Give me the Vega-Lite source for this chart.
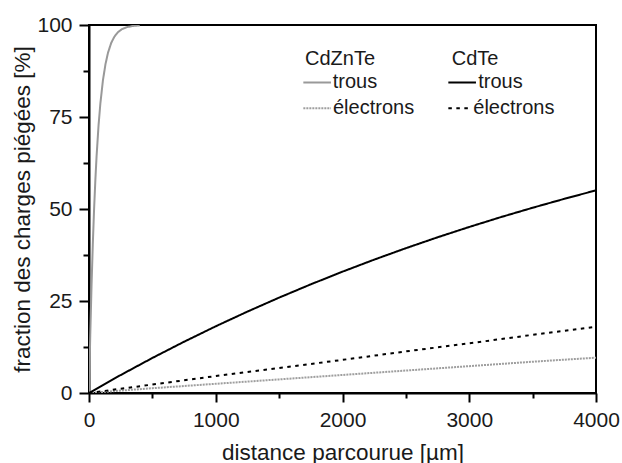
{
  "$schema": "https://vega.github.io/schema/vega-lite/v6.json",
  "width": 507,
  "height": 368,
  "autosize": {"type": "none"},
  "padding": {"left": 89, "top": 25, "right": 26, "bottom": 70},
  "background": "white",
  "config": {
    "view": {"stroke": "#000000", "strokeWidth": 2},
    "font": "Liberation Sans",
    "axis": {
      "domainColor": "#000000",
      "domainWidth": 2,
      "tickColor": "#000000",
      "tickWidth": 2,
      "grid": false,
      "labelFont": "Liberation Sans",
      "labelFontSize": 21,
      "labelColor": "#1a1a1a",
      "titleFont": "Liberation Sans",
      "titleFontSize": 22.5,
      "titleFontWeight": "normal",
      "titleColor": "#1a1a1a",
      "labelFlush": false,
      "labelOverlap": false,
      "labelBound": false,
      "zindex": 1
    }
  },
  "datasets": {
    "curves": [
      {"series": "CdZnTe trous", "x": 0, "y": 0},
      {"series": "CdZnTe trous", "x": 10, "y": 15.84},
      {"series": "CdZnTe trous", "x": 20, "y": 29.16},
      {"series": "CdZnTe trous", "x": 30, "y": 40.38},
      {"series": "CdZnTe trous", "x": 40, "y": 49.83},
      {"series": "CdZnTe trous", "x": 50, "y": 57.77},
      {"series": "CdZnTe trous", "x": 60, "y": 64.46},
      {"series": "CdZnTe trous", "x": 75, "y": 72.56},
      {"series": "CdZnTe trous", "x": 90, "y": 78.81},
      {"series": "CdZnTe trous", "x": 110, "y": 84.99},
      {"series": "CdZnTe trous", "x": 130, "y": 89.37},
      {"series": "CdZnTe trous", "x": 150, "y": 92.47},
      {"series": "CdZnTe trous", "x": 175, "y": 95.11},
      {"series": "CdZnTe trous", "x": 200, "y": 96.82},
      {"series": "CdZnTe trous", "x": 230, "y": 98.1},
      {"series": "CdZnTe trous", "x": 260, "y": 98.87},
      {"series": "CdZnTe trous", "x": 300, "y": 99.43},
      {"series": "CdZnTe trous", "x": 350, "y": 99.76},
      {"series": "CdZnTe trous", "x": 400, "y": 99.9},
      {"series": "CdZnTe électrons", "x": 0, "y": 0},
      {"series": "CdZnTe électrons", "x": 500, "y": 1.3},
      {"series": "CdZnTe électrons", "x": 1000, "y": 2.5},
      {"series": "CdZnTe électrons", "x": 1500, "y": 3.7},
      {"series": "CdZnTe électrons", "x": 2000, "y": 4.9},
      {"series": "CdZnTe électrons", "x": 2500, "y": 6.1},
      {"series": "CdZnTe électrons", "x": 3000, "y": 7.3},
      {"series": "CdZnTe électrons", "x": 3500, "y": 8.5},
      {"series": "CdZnTe électrons", "x": 4000, "y": 9.6},
      {"series": "CdTe trous", "x": 0, "y": 0},
      {"series": "CdTe trous", "x": 250, "y": 4.88},
      {"series": "CdTe trous", "x": 500, "y": 9.52},
      {"series": "CdTe trous", "x": 750, "y": 13.93},
      {"series": "CdTe trous", "x": 1000, "y": 18.13},
      {"series": "CdTe trous", "x": 1250, "y": 22.12},
      {"series": "CdTe trous", "x": 1500, "y": 25.92},
      {"series": "CdTe trous", "x": 1750, "y": 29.53},
      {"series": "CdTe trous", "x": 2000, "y": 32.97},
      {"series": "CdTe trous", "x": 2250, "y": 36.24},
      {"series": "CdTe trous", "x": 2500, "y": 39.35},
      {"series": "CdTe trous", "x": 2750, "y": 42.31},
      {"series": "CdTe trous", "x": 3000, "y": 45.12},
      {"series": "CdTe trous", "x": 3250, "y": 47.8},
      {"series": "CdTe trous", "x": 3500, "y": 50.34},
      {"series": "CdTe trous", "x": 3750, "y": 52.76},
      {"series": "CdTe trous", "x": 4000, "y": 55.07},
      {"series": "CdTe électrons", "x": 0, "y": 0},
      {"series": "CdTe électrons", "x": 500, "y": 2.3},
      {"series": "CdTe électrons", "x": 1000, "y": 4.6},
      {"series": "CdTe électrons", "x": 1500, "y": 6.8},
      {"series": "CdTe électrons", "x": 2000, "y": 9.0},
      {"series": "CdTe électrons", "x": 2500, "y": 11.3},
      {"series": "CdTe électrons", "x": 3000, "y": 13.5},
      {"series": "CdTe électrons", "x": 3500, "y": 15.8},
      {"series": "CdTe électrons", "x": 4000, "y": 18.0}
    ],
    "legendLines": [
      {"series": "CdZnTe trous", "x": 1691, "x2": 1909, "y": 84.4},
      {"series": "CdZnTe électrons", "x": 1691, "x2": 1909, "y": 77.4},
      {"series": "CdTe trous", "x": 2835, "x2": 3053, "y": 84.4},
      {"series": "CdTe électrons", "x": 2835, "x2": 2993, "y": 77.4}
    ],
    "legendText": [
      {"text": "CdZnTe", "x": 1704, "y": 89.1},
      {"text": "trous", "x": 1923, "y": 82.8},
      {"text": "électrons", "x": 1925, "y": 75.8},
      {"text": "CdTe", "x": 2862, "y": 89.1},
      {"text": "trous", "x": 3071, "y": 82.8},
      {"text": "électrons", "x": 3032, "y": 75.8}
    ]
  },
  "encoding": {
    "x": {
      "field": "x",
      "type": "quantitative",
      "scale": {"domain": [0, 4000], "nice": false, "zero": false},
      "axis": {
        "title": "distance parcourue [µm]",
        "values": [0, 500, 1000, 1500, 2000, 2500, 3000, 3500, 4000],
        "format": "d",
        "labelExpr": "datum.value % 1000 === 0 ? datum.label : ''",
        "tickSize": {"condition": {"test": "datum.value % 1000 === 0", "value": 9}, "value": 5},
        "labelPadding": 7,
        "titleY": 66,
        "titleBaseline": "alphabetic"
      }
    },
    "y": {
      "field": "y",
      "type": "quantitative",
      "scale": {"domain": [0, 100], "nice": false},
      "axis": {
        "title": "fraction des charges piégées [%]",
        "values": [0, 12.5, 25, 37.5, 50, 62.5, 75, 87.5, 100],
        "labelExpr": "datum.value % 25 === 0 ? datum.label : ''",
        "tickSize": {"condition": {"test": "datum.value % 25 === 0", "value": 10}, "value": 6},
        "labelPadding": 7,
        "titleX": -60,
        "titleBaseline": "alphabetic"
      }
    }
  },
  "layer": [
    {
      "data": {"name": "curves"},
      "mark": {"type": "line", "strokeWidth": 2, "clip": true},
      "encoding": {
        "color": {
          "field": "series",
          "type": "nominal",
          "scale": {
            "domain": ["CdZnTe trous", "CdZnTe électrons", "CdTe trous", "CdTe électrons"],
            "range": ["#999999", "#9e9e9e", "#000000", "#000000"]
          },
          "legend": null
        },
        "strokeDash": {
          "field": "series",
          "type": "nominal",
          "scale": {
            "domain": ["CdZnTe trous", "CdZnTe électrons", "CdTe trous", "CdTe électrons"],
            "range": [[1, 0], [2, 1], [1, 0], [3.5, 4.5]]
          },
          "legend": null
        }
      }
    },
    {
      "data": {"name": "legendLines"},
      "mark": {"type": "rule", "strokeWidth": 2},
      "encoding": {
        "x2": {"field": "x2"},
        "color": {"field": "series", "type": "nominal", "legend": null},
        "strokeDash": {"field": "series", "type": "nominal", "legend": null}
      }
    },
    {
      "data": {"name": "legendText"},
      "mark": {"type": "text", "font": "Liberation Sans", "fontSize": 20, "align": "left", "baseline": "alphabetic", "color": "#1a1a1a"},
      "encoding": {
        "text": {"field": "text"}
      }
    }
  ]
}
